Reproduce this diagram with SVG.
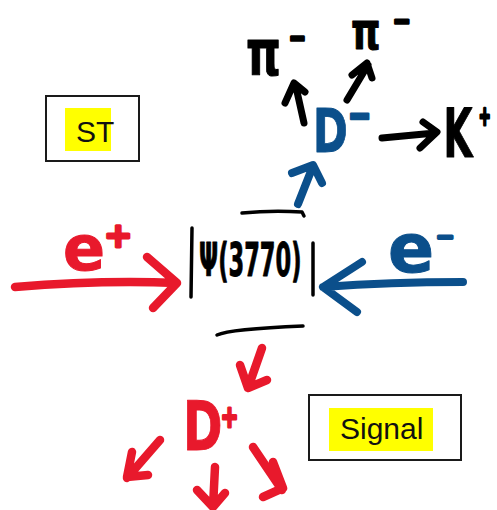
<svg xmlns="http://www.w3.org/2000/svg" width="497" height="510" viewBox="0 0 497 510">
<style>
.box{fill:#fff;stroke:#1a1a1a;stroke-width:2}
.hl{fill:#ffff00}
.lbl{font-family:"Liberation Sans",Arial,sans-serif;fill:#111;font-size:30px}
.hw{font-family:"DejaVu Sans",sans-serif;font-weight:bold;stroke-linejoin:round;stroke-linecap:round;stroke-width:1}
.sup{stroke-width:3}
.red{fill:#e8192c;stroke:#e8192c}
.blue{fill:#0b4f8b;stroke:#0b4f8b}
.blk{fill:#000;stroke:#000}
.ln{fill:none;stroke-linecap:round;stroke-linejoin:round}
.r{stroke:#e8192c;stroke-width:8.5}
.b{stroke:#0b4f8b;stroke-width:8}
.k{stroke:#000;stroke-width:7}
.bar{stroke:#000;stroke-width:3.5}
</style>
<rect width="497" height="510" fill="#fff"/>
<g id="st-box">
<rect class="box" x="46" y="96" width="93" height="65"/>
<rect class="hl" x="65" y="108" width="46" height="43"/>
<text class="lbl" x="76" y="142">ST</text>
</g>
<g id="signal-box">
<rect class="box" x="309" y="395" width="152" height="65"/>
<rect class="hl" x="329" y="408" width="104" height="43"/>
<text class="lbl" x="340" y="439">Signal</text>
</g>
<g id="psi">
<path class="ln bar" d="M242 213 Q272 210 302 212 L304 216"/>
<path class="ln bar" d="M192 228 L191 297"/>
<path class="ln bar" d="M313 243 L313 295"/>
<path class="ln bar" d="M217 335 Q230 329 303 326"/>
<text class="hw blk" transform="translate(199,276) scale(0.49,1)" font-size="46" stroke-width="0.6">Ψ(3770)</text>
</g>
<g id="e-plus">
<text class="hw red" font-size="62"><tspan x="63" y="270">e</tspan><tspan class="sup" x="104" y="247" font-size="34" stroke-width="1.5">+</tspan></text>
</g>
<g id="e-minus">
<text class="hw blue" font-size="68"><tspan x="388" y="272">e</tspan><tspan class="sup" x="436" y="244" font-size="22">−</tspan></text>
</g>
<g id="d-minus">
<text class="hw blue" transform="translate(313,152) scale(0.7,1)" font-size="60"><tspan x="0" y="0">D</tspan><tspan class="sup" x="50" y="-23" font-size="40">−</tspan></text>
</g>
<g id="pi-left">
<text class="hw blk" transform="translate(246,75) scale(0.69,1)" font-size="64"><tspan x="0" y="0">π</tspan><tspan class="sup" x="62" y="-27" font-size="30">−</tspan></text>
</g>
<g id="pi-right">
<text class="hw blk" transform="translate(351,48.5) scale(0.72,1)" font-size="52"><tspan x="0" y="0">π</tspan><tspan class="sup" x="58" y="-18" font-size="30">−</tspan></text>
</g>
<g id="k-plus">
<text class="hw blk" transform="translate(443.6,157) scale(0.55,1)" font-size="68"><tspan x="0" y="0">K</tspan><tspan class="sup" x="64" y="-32" font-size="26" stroke-width="2">+</tspan></text>
</g>
<g id="d-plus">
<text class="hw red" transform="translate(183,450) scale(0.7,1)" font-size="68"><tspan x="0" y="0">D</tspan><tspan class="sup" x="54" y="-23" font-size="30" stroke-width="1.5">+</tspan></text>
</g>
<g id="connectors">
<path class="ln r" d="M15 287 Q100 280 177 283 M147 257 L177 283 L153 308"/>
<path class="ln b" d="M463 282 Q390 282 323 287 M362 262 L323 287 L357 312"/>
<path class="ln b" d="M298 204 L313 166 M292 173 L313 165 L322 183"/>
<path class="ln k" d="M304 123 L296 87 M285 103 L294 83 L305 92"/>
<path class="ln k" d="M347 100 L368 65 M352 75 L367 63 L372 78"/>
<path class="ln k" d="M382 138 L435 133 M423 122 L437 132 L420 148"/>
<path class="ln r" d="M262 348 L248 388 M240 365 L248 388 L267 380"/>
<path class="ln r" d="M160 440 L127 478 M132 452 L127 477 L148 475"/>
<path class="ln r" d="M215 467 L213 507 M197 490 L213 507 L225 493"/>
<path class="ln r" d="M253 447 L282 490 M273 462 L283 488 L263 497"/>
</g>
</svg>
